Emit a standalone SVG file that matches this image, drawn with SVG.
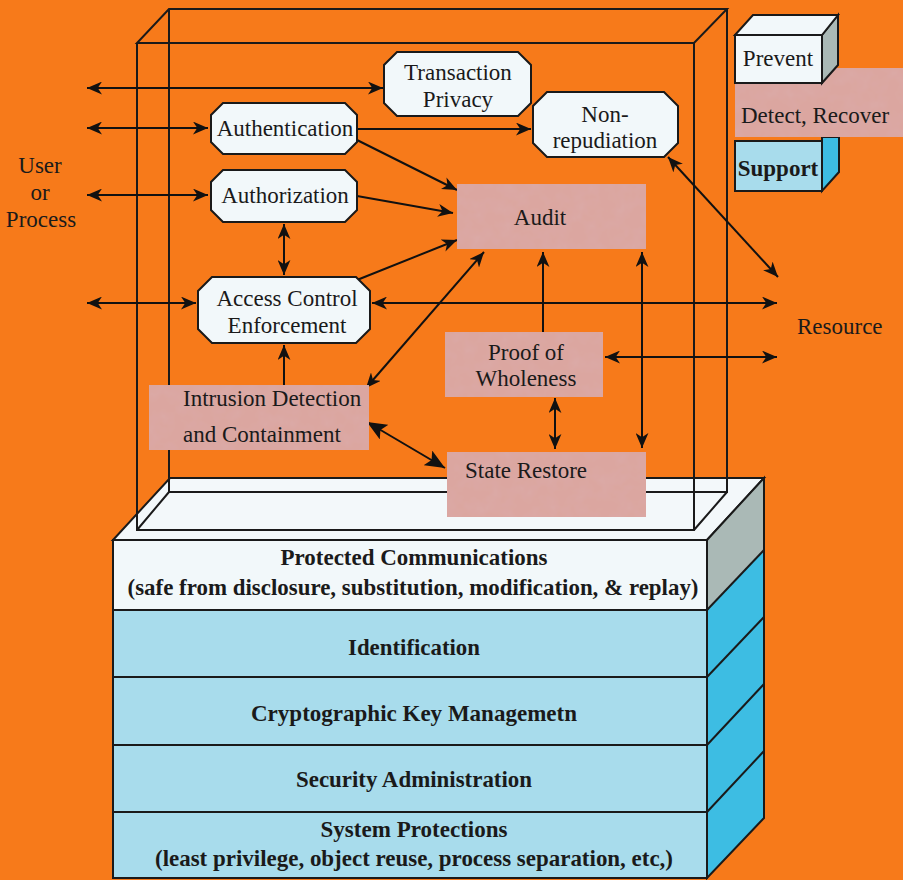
<svg xmlns="http://www.w3.org/2000/svg" width="903" height="880" viewBox="0 0 903 880">
<defs>
<marker id="ah" viewBox="0 0 14 12" refX="14" refY="6" markerWidth="15" markerHeight="13" markerUnits="userSpaceOnUse" orient="auto-start-reverse">
<path d="M0,0 L14,6 L0,12 L4,6 z" fill="#111"/>
</marker>
<marker id="ahb" viewBox="0 0 14 12" refX="14" refY="6" markerWidth="20" markerHeight="17" markerUnits="userSpaceOnUse" orient="auto-start-reverse">
<path d="M0,0 L14,6 L0,12 L3,6 z" fill="#111"/>
</marker>
<filter id="tex" x="0" y="0" width="1" height="1">
<feTurbulence type="fractalNoise" baseFrequency="0.07" numOctaves="3" seed="5" result="n"/>
<feColorMatrix in="n" type="matrix" values="0 0 0 0 0.70  0 0 0 0 0.42  0 0 0 0 0.42  0.9 0 0 0 -0.35" result="d"/>
<feComposite in="d" in2="SourceGraphic" operator="atop"/>
</filter>
<style>
.bg{fill:#f77a1a}
.oct{fill:#f2f8fa;stroke:#1a1a1a;stroke-width:2}
.pink{fill:#dba6a0;filter:url(#tex)}
.t{font-family:"Liberation Serif","Times New Roman",serif;font-size:23px;fill:#1a1a1a}
.c{text-anchor:middle}
.b{font-weight:bold}
.wire{fill:none;stroke:#1a1a1a;stroke-width:2}
.edge{fill:none;stroke:#111;stroke-width:2}
.da{marker-start:url(#ah);marker-end:url(#ah)}
.sa{marker-end:url(#ah)}
.face{stroke:#1a1a1a;stroke-width:2}
</style>
</defs>
<rect class="bg" x="0" y="0" width="903" height="880"/>

<g id="slab">
<polygon class="face" points="113,540 170,478 764,478 707,540" fill="#f3f8fa"/>
<polygon points="707,540 764,478 764,550 707,610" fill="#aab9b6" stroke="none"/>
<polygon points="707,610 764,550 764,818 707,878" fill="#3dbde3" stroke="none"/>
<polygon class="face" points="707,540 764,478 764,818 707,878" fill="none"/>
<line class="wire" x1="707" y1="610" x2="764" y2="550" stroke-width="1"/>
<line class="wire" x1="707" y1="677" x2="764" y2="617"/>
<line class="wire" x1="707" y1="745" x2="764" y2="684"/>
<line class="wire" x1="707" y1="812" x2="764" y2="751"/>
<rect class="face" x="113" y="540" width="594" height="70" fill="#f2f8fa"/>
<rect class="face" x="113" y="610" width="594" height="67" fill="#a8dcec"/>
<rect class="face" x="113" y="677" width="594" height="68" fill="#a8dcec"/>
<rect class="face" x="113" y="745" width="594" height="67" fill="#a8dcec"/>
<rect class="face" x="113" y="812" width="594" height="66" fill="#a8dcec"/>
<text class="t c b" x="414" y="565" textLength="267" lengthAdjust="spacingAndGlyphs">Protected Communications</text>
<text class="t c b" x="413" y="595" textLength="571" lengthAdjust="spacingAndGlyphs">(safe from disclosure, substitution, modification, &amp; replay)</text>
<text class="t c b" x="414" y="655" textLength="132" lengthAdjust="spacingAndGlyphs">Identification</text>
<text class="t c b" x="414" y="721" textLength="326" lengthAdjust="spacingAndGlyphs">Cryptographic Key Managemetn</text>
<text class="t c b" x="414" y="787" textLength="236" lengthAdjust="spacingAndGlyphs">Security Administration</text>
<text class="t c b" x="414" y="837" textLength="187" lengthAdjust="spacingAndGlyphs">System Protections</text>
<text class="t c b" x="414" y="866" textLength="518" lengthAdjust="spacingAndGlyphs">(least privilege, object reuse, process separation, etc,)</text>
</g>

<g id="wireframe">
<path class="wire" d="M137,43 L694,43 L727,9 L169,9 Z M137,43 L137,530 L694,530 L694,43 M169,9 L169,492 L727,492 L727,9 M137,530 L169,492 M694,530 L727,492"/>
</g>

<g id="legend">
<polygon points="822,137 839,137 839,172 822,191" fill="#3dbde3" stroke="#1a1a1a" stroke-width="2"/>
<rect x="735" y="141" width="87" height="50" fill="#a8dcec" stroke="#1a1a1a" stroke-width="2"/>
<text class="t c b" x="778" y="176">Support</text>
<rect class="pink" x="735" y="68" width="168" height="69"/>
<text class="t" x="741" y="123">Detect, Recover</text>
<polygon points="822,35 838,15 838,65 822,83" fill="#aab9b6" stroke="#1a1a1a" stroke-width="2"/>
<polygon points="735,35 753,15 838,15 822,35" fill="#f2f8fa" stroke="#1a1a1a" stroke-width="2"/>
<rect x="735" y="35" width="87" height="48" fill="#f2f8fa" stroke="#1a1a1a" stroke-width="2"/>
<text class="t c" x="778" y="66">Prevent</text>
</g>

<g id="labels">
<text class="t c" x="40" y="173">User</text>
<text class="t c" x="40" y="200">or</text>
<text class="t c" x="41" y="227">Process</text>
<text class="t" x="797" y="334">Resource</text>
</g>

<g id="connectors">
<line class="edge da" x1="87" y1="88" x2="383" y2="88"/>
<line class="edge da" x1="87" y1="128" x2="208" y2="128"/>
<line class="edge da" x1="87" y1="195" x2="208" y2="195"/>
<line class="edge da" x1="87" y1="303" x2="196" y2="303"/>
<line class="edge sa" x1="357" y1="129" x2="531" y2="129"/>
<line class="edge sa" x1="357" y1="140" x2="457" y2="190"/>
<line class="edge sa" x1="357" y1="196" x2="453" y2="213"/>
<line class="edge sa" x1="357" y1="280" x2="457" y2="240"/>
<line class="edge da" x1="284" y1="224" x2="284" y2="275"/>
<line class="edge sa" x1="284" y1="385" x2="284" y2="345"/>
<line class="edge da" x1="372" y1="303" x2="777" y2="303"/>
<line class="edge da" x1="366" y1="388" x2="484" y2="252"/>
<line class="edge sa" x1="543" y1="332" x2="543" y2="252"/>
<line class="edge da" x1="642" y1="252" x2="642" y2="448"/>
<line class="edge da" x1="605" y1="357" x2="777" y2="357"/>
<line class="edge da" x1="555" y1="398" x2="555" y2="449"/>
<line class="edge" x1="367" y1="422" x2="445" y2="468" marker-start="url(#ahb)" marker-end="url(#ahb)"/>
<line class="edge da" x1="668" y1="157" x2="778" y2="277"/>
</g>

<g id="transaction-privacy">
<polygon class="oct" points="397,52 518,52 531,65 531,103 518,116 397,116 384,103 384,65"/>
<text class="t c" x="458" y="80">Transaction</text>
<text class="t c" x="458" y="107">Privacy</text>
</g>
<g id="authentication">
<polygon class="oct" points="223,103 345,103 357,115 357,142 345,154 223,154 211,142 211,115"/>
<text class="t c" x="285" y="136">Authentication</text>
</g>
<g id="authorization">
<polygon class="oct" points="223,170 345,170 357,182 357,210 345,222 223,222 211,210 211,182"/>
<text class="t c" x="285" y="203">Authorization</text>
</g>
<g id="non-repudiation">
<polygon class="oct" points="547,92 664,92 678,106 678,143 664,157 547,157 533,143 533,106"/>
<text class="t c" x="605" y="122">Non-</text>
<text class="t c" x="605" y="148">repudiation</text>
</g>
<g id="access-control">
<polygon class="oct" points="212,277 356,277 370,291 370,329 356,343 212,343 198,329 198,291"/>
<text class="t c" x="287" y="306">Access Control</text>
<text class="t c" x="287" y="333">Enforcement</text>
</g>
<g id="audit">
<rect class="pink" x="457" y="184" width="189" height="65"/>
<text class="t c" x="540" y="225">Audit</text>
</g>
<g id="proof-of-wholeness">
<rect class="pink" x="445" y="332" width="158" height="65"/>
<text class="t c" x="526" y="360">Proof of</text>
<text class="t c" x="526" y="386">Wholeness</text>
</g>
<g id="intrusion-detection">
<rect class="pink" x="149" y="385" width="220" height="65"/>
<text class="t" x="183" y="406">Intrusion Detection</text>
<text class="t" x="183" y="442">and Containment</text>
</g>
<g id="state-restore">
<rect class="pink" x="447" y="452" width="199" height="65"/>
<text class="t" x="465" y="478">State Restore</text>
</g>
</svg>
